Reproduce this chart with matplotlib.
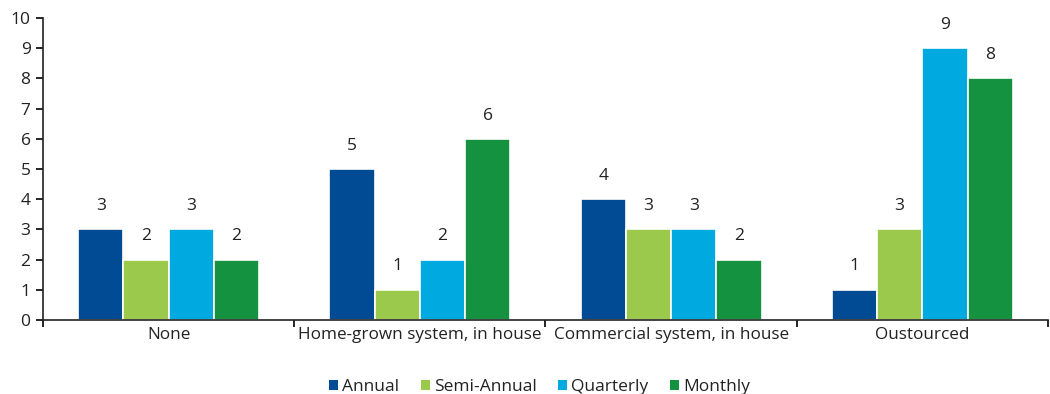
import matplotlib

matplotlib.use("Agg")
import matplotlib.pyplot as plt
from matplotlib.patches import Patch
import numpy as np

categories = ["None", "Home-grown system, in house", "Commercial system, in house", "Oustourced"]
series_names = ["Annual", "Semi-Annual", "Quarterly", "Monthly"]
annual = [3, 5, 4, 1]
semi_annual = [2, 1, 3, 3]
quarterly = [3, 2, 3, 9]
monthly = [2, 6, 2, 8]
colors = ["#004B93", "#9BC94B", "#00A9E0", "#14923F"]

plt.rcParams["font.family"] = ["Open Sans", "DejaVu Sans"]
plt.rcParams["font.size"] = 12

fig = plt.figure(figsize=(10.5, 3.94), dpi=100)
ax = fig.add_axes([0.041, 0.188, 0.957, 0.766])

x = np.arange(len(categories))
width = 0.18
for i, (vals, color) in enumerate(zip([annual, semi_annual, quarterly, monthly], colors)):
    pos = x + (i - 1.5) * width
    bars = ax.bar(pos, vals, width, color=color, edgecolor="white", linewidth=1.2, zorder=2)
    for b, v in zip(bars, vals):
        ax.annotate(str(v), (b.get_x() + b.get_width() / 2, v), xytext=(0, 11),
                    textcoords="offset points", ha="center", va="bottom", fontsize=12.5, color="#222222")

ax.set_xlim(-0.5, len(categories) - 0.5)
ax.set_ylim(0, 10)
ax.set_yticks(range(0, 11))
ax.set_xticks(np.arange(-0.5, len(categories)), minor=False)
ax.set_xticklabels([])
ax.set_xticks(x, minor=True)
ax.set_xticklabels(categories, minor=True, fontsize=12.3, color="#222222")
ax.tick_params(axis="x", which="minor", length=0, pad=5)
ax.tick_params(axis="x", which="major", length=5, width=1.2, direction="out")
ax.tick_params(axis="y", length=5, width=1.2, direction="out", pad=4, labelsize=12.5, labelcolor="#222222")
for side in ["top", "right"]:
    ax.spines[side].set_visible(False)
ax.spines["left"].set_linewidth(1.2)
ax.spines["bottom"].set_linewidth(1.2)
ax.spines["left"].set_color("#222222")
ax.spines["bottom"].set_color("#222222")

handles = [Patch(facecolor=c, edgecolor="none") for c in colors]
fig.legend(handles, series_names, loc="lower center", bbox_to_anchor=(0.514, -0.043), ncol=4,
           frameon=False, handlelength=0.5, handleheight=0.5, handletextpad=0.25, columnspacing=1.25,
           fontsize=12.5, labelcolor="#222222")

fig.savefig("out.png", dpi=100)
